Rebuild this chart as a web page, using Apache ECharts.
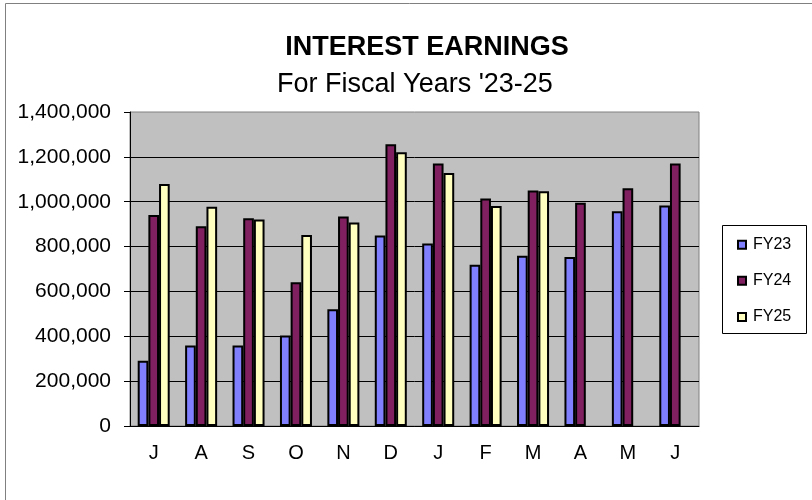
<!DOCTYPE html>
<html>
<head>
    <title>Interest Earnings</title>
    <style>
        body {
            margin: 0;
            background: #ffffff;
        }

        #chart {
            width: 812px;
            height: 500px;
        }
    </style>
    <script src="https://cdn.jsdelivr.net/npm/echarts@6/dist/echarts.min.js"></script>
</head>
<body>
    <div id="chart"></div>

    <script>
        // fiscal year months, July to June
        var months = ['J', 'A', 'S', 'O', 'N', 'D', 'J', 'F', 'M', 'A', 'M', 'J'];

        var fy23 = [291000, 359000, 359000, 404000, 521000, 849000, 814000, 719000, 759000, 754000, 958000, 983000];
        var fy24 = [941000, 891000, 926000, 641000, 934000, 1256000, 1170000, 1014000, 1050000, 995000, 1060000, 1170000];
        var fy25 = [1079000, 977000, 921000, 852000, 907000, 1220000, 1128000, 981000, 1047000, null, null, null];

        var seriesNames = ['FY23', 'FY24', 'FY25'];
        var seriesColors = ['#8080ff', '#802060', '#ffffc0'];

        var chart = echarts.init(document.getElementById('chart'));

        function makeBar(name, data, color) {
            return {
                name: name,
                type: 'bar',
                data: data,
                barWidth: 10.67,
                barGap: '0%',
                itemStyle: {
                    color: color,
                    borderColor: '#000000',
                    borderWidth: 2
                }
            };
        }

        var option = {
            animation: false,
            textStyle: {
                fontFamily: 'Liberation Sans, Arial, sans-serif'
            },
            title: [{
                text: 'INTEREST EARNINGS',
                left: 422,
                top: 19,
                textAlign: 'center',
                textStyle: {
                    fontSize: 27,
                    fontWeight: 'bold',
                    color: '#000000'
                }
            }, {
                text: "For Fiscal Years '23-25",
                left: 410,
                top: 56,
                textAlign: 'center',
                textStyle: {
                    fontSize: 27,
                    fontWeight: 'normal',
                    color: '#000000'
                }
            }],
            legend: {
                orient: 'vertical',
                left: 737,
                top: 231,
                padding: 0,
                itemGap: 8.5,
                itemWidth: 8,
                itemHeight: 8,
                icon: 'rect',
                data: seriesNames,
                textStyle: {
                    fontSize: 16,
                    lineHeight: 18,
                    color: '#000000',
                    padding: [0, 0, 0, 2]
                }
            },
            grid: {
                left: 130,
                top: 112,
                right: 113,
                bottom: 74,
                show: true,
                backgroundColor: '#c0c0c0',
                borderColor: '#808080',
                borderWidth: 1
            },
            xAxis: {
                type: 'category',
                data: months,
                axisLine: {
                    lineStyle: { color: '#000000', width: 1 }
                },
                axisTick: {
                    length: 6,
                    lineStyle: { color: '#000000' }
                },
                axisLabel: {
                    fontSize: 20,
                    color: '#000000',
                    margin: 10
                }
            },
            yAxis: {
                type: 'value',
                min: 0,
                max: 1400000,
                interval: 200000,
                axisLine: {
                    show: true,
                    lineStyle: { color: '#000000', width: 1 }
                },
                axisTick: {
                    show: true,
                    length: 6,
                    lineStyle: { color: '#000000' }
                },
                axisLabel: {
                    fontSize: 21,
                    color: '#000000',
                    margin: 19,
                    formatter: function (v) {
                        return v.toString().replace(/\B(?=(\d{3})+(?!\d))/g, ',');
                    }
                },
                splitLine: {
                    show: true,
                    showMaxLine: false,
                    lineStyle: { color: '#000000', width: 1 }
                }
            },
            graphic: [{
                type: 'rect',
                shape: { x: 5.5, y: 3.5, width: 900, height: 600 },
                style: { fill: 'none', stroke: '#808080', lineWidth: 1 },
                silent: true
            }, {
                type: 'rect',
                shape: { x: 722.5, y: 225.5, width: 84, height: 108 },
                style: { fill: 'none', stroke: '#000000', lineWidth: 1 },
                silent: true
            }],
            series: [
                makeBar(seriesNames[0], fy23, seriesColors[0]),
                makeBar(seriesNames[1], fy24, seriesColors[1]),
                makeBar(seriesNames[2], fy25, seriesColors[2])
            ]
        };

        chart.setOption(option);
    </script>
</body>
</html>
